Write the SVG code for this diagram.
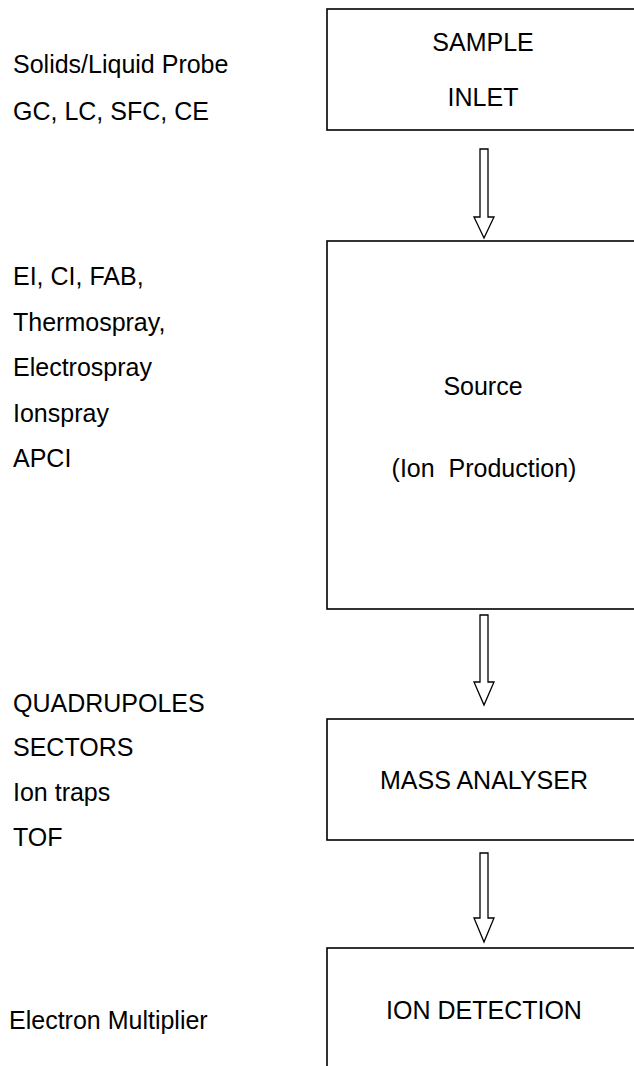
<svg xmlns="http://www.w3.org/2000/svg" width="634" height="1066" viewBox="0 0 634 1066">
<style>
text{font-family:"Liberation Sans",Arial,sans-serif;font-size:25px;fill:#000}
.c{text-anchor:middle}
.box{fill:#fff;stroke:#000;stroke-width:1.6}
.arr{fill:#fff;stroke:#000;stroke-width:1.3;stroke-linejoin:miter}
</style>
<rect width="634" height="1066" fill="#fff"/>
<g id="labels">
<text x="13" y="73">Solids/Liquid Probe</text>
<text x="13" y="120">GC, LC, SFC, CE</text>
<text x="13" y="285">EI, CI, FAB,</text>
<text x="13" y="331">Thermospray,</text>
<text x="13" y="376">Electrospray</text>
<text x="13" y="422">Ionspray</text>
<text x="13" y="467">APCI</text>
<text x="13" y="712">QUADRUPOLES</text>
<text x="13" y="756">SECTORS</text>
<text x="13" y="801">Ion traps</text>
<text x="13" y="846">TOF</text>
<text x="9" y="1029">Electron Multiplier</text>
</g>
<g id="sample-inlet">
<rect class="box" x="327" y="9" width="320" height="121"/>
<text class="c" x="483" y="51">SAMPLE</text>
<text class="c" x="483" y="106">INLET</text>
</g>
<g id="source">
<rect class="box" x="327" y="241" width="320" height="368"/>
<text class="c" x="483" y="395">Source</text>
<text class="c" x="484" y="477" xml:space="preserve">(Ion  Production)</text>
</g>
<g id="mass-analyser">
<rect class="box" x="327" y="719" width="320" height="121"/>
<text class="c" x="484" y="789">MASS ANALYSER</text>
</g>
<g id="ion-detection">
<rect class="box" x="327" y="948" width="320" height="140"/>
<text class="c" x="484" y="1019">ION DETECTION</text>
</g>
<g id="connectors">
<polygon class="arr" points="480,149 488,149 488,217 494,217 484,238 474,217 480,217"/>
<polygon class="arr" points="480,615 488,615 488,682 494,682 484,705 474,682 480,682"/>
<polygon class="arr" points="480,853 488,853 488,918 494,918 484,942 474,918 480,918"/>
</g>
</svg>
